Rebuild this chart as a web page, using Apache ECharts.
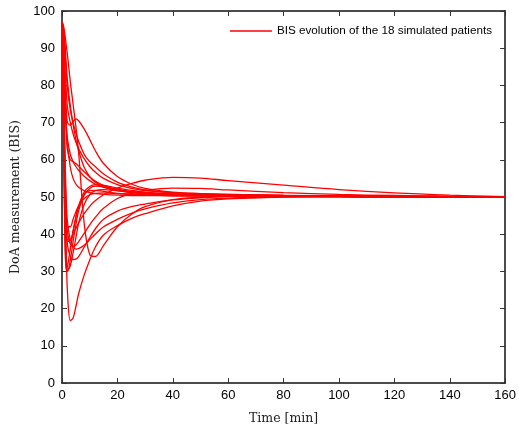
<!DOCTYPE html>
<html>
<head>
<meta charset="utf-8">
<script src="https://cdn.jsdelivr.net/npm/echarts@6/dist/echarts.min.js"></script>
<style>html,body{margin:0;padding:0;background:#fff}#c{width:519px;height:430px}</style>
</head>
<body>
<div id="c"></div>
<script>
const seriesName = 'BIS evolution of the 18 simulated patients';
const xTicks = [0, 20, 40, 60, 80, 100, 120, 140, 160];
const yTicks = [0, 10, 20, 30, 40, 50, 60, 70, 80, 90, 100];
const time = [0, 0.5, 1, 1.5, 2, 3, 4, 5, 6, 8, 10, 12, 15, 20, 25, 30, 40, 50, 60, 80, 100, 120, 140, 160];

const p1  = [97, 92, 82, 74, 70, 69.3, 70.3, 71, 70.5, 68.3, 65.5, 62.5, 59, 55.5, 53.5, 52.3, 51.3, 50.9, 50.7, 50.4, 50.3, 50.2, 50.1, 50];
const p2  = [97, 90, 78, 68, 62.5, 60, 59.5, 59, 58.3, 56.8, 55.4, 54.3, 53.1, 51.9, 51.3, 51, 50.7, 50.6, 50.5, 50.3, 50.2, 50.1, 50.1, 50];
const p3  = [97, 95, 90, 84, 79, 73.5, 70, 67.3, 65, 61.5, 59.5, 58.2, 56.2, 54, 52.7, 51.9, 51.2, 50.9, 50.7, 50.4, 50.3, 50.2, 50.1, 50];
const p4  = [97, 94, 86, 79, 74, 70, 67, 64.8, 63, 60.3, 58.2, 56.7, 55, 53.3, 52.3, 51.7, 51.1, 50.8, 50.6, 50.4, 50.3, 50.2, 50.1, 50];
const p5  = [97, 90, 80, 70, 65.5, 61.5, 59.5, 58.2, 57.2, 55.6, 54.4, 53.5, 52.6, 51.8, 51.3, 51, 50.7, 50.6, 50.5, 50.3, 50.2, 50.1, 50.1, 50];
const p6  = [97, 91, 80, 70, 64, 58, 55, 53.5, 52.6, 51.7, 51.2, 50.9, 50.7, 50.5, 50.4, 50.4, 50.3, 50.3, 50.2, 50.2, 50.1, 50.1, 50, 50];
const p7  = [97, 96, 92, 86, 81, 74.5, 69.5, 65.5, 62.5, 58, 55.5, 54, 52.8, 51.7, 51.2, 50.9, 50.6, 50.5, 50.4, 50.3, 50.2, 50.1, 50.1, 50];
const p8  = [97, 80, 55, 36, 24, 16.8, 17.5, 20.5, 24, 29, 33, 36.5, 39.8, 42.3, 44.2, 45.5, 47.6, 48.9, 49.5, 50, 50.1, 50.1, 50, 50];
const p9  = [97, 72, 44, 31, 30, 33, 38, 42.5, 46.3, 50.5, 52.3, 52.9, 52.8, 52.1, 51.5, 51.1, 50.7, 50.5, 50.4, 50.3, 50.2, 50.1, 50.1, 50];
const p10 = [97, 76, 49, 34, 30.3, 31.5, 35, 39, 43, 48, 50.6, 51.7, 52, 51.7, 51.3, 51, 50.6, 50.5, 50.4, 50.3, 50.2, 50.1, 50.1, 50];
const p11 = [97, 82, 58, 43, 38.5, 38.5, 41, 44.5, 47.5, 51.3, 52.8, 53.3, 53.1, 52.4, 51.8, 51.3, 50.8, 50.6, 50.5, 50.3, 50.2, 50.1, 50.1, 50];
const p12 = [97, 78, 52, 41, 38, 38.5, 40, 41.5, 43, 45.5, 47.5, 49, 50.6, 52.4, 53.6, 54.5, 55.3, 55.1, 54.4, 53.2, 52, 51.1, 50.5, 50.1];
const p13 = [97, 85, 61, 46, 40.5, 37.3, 36.7, 37.1, 38, 40.2, 42.5, 44.5, 47, 49.6, 51, 51.8, 52.4, 52.3, 51.9, 51.2, 50.7, 50.4, 50.2, 50.1];
const p14 = [97, 68, 40, 30.5, 31.5, 36, 40.5, 44.5, 47.5, 50.8, 51.7, 51.8, 51.5, 51, 50.8, 50.6, 50.4, 50.3, 50.3, 50.2, 50.1, 50.1, 50, 50];
const p15 = [97, 86, 64, 50, 43, 38.5, 36.7, 36, 36.1, 37, 38.5, 40, 42, 44, 45.6, 46.8, 48.4, 49.3, 49.7, 50, 50.1, 50, 50, 50];
const p16 = [97, 81, 56, 43, 37, 34, 33.2, 33.3, 34, 36.5, 39, 41.4, 44, 46.2, 47.4, 48.1, 49.2, 49.8, 50.1, 50.2, 50.1, 50.1, 50, 50];
const p17 = [97, 96, 94, 91, 88, 81, 75, 69, 62, 43, 34.5, 34, 37, 42, 45.3, 47.4, 49.3, 50, 50.3, 50.3, 50.2, 50.1, 50, 50];
const p18 = [97, 80, 58, 46, 42, 42, 44, 46, 47.6, 49.6, 50.6, 51, 51.1, 50.9, 50.7, 50.5, 50.4, 50.3, 50.3, 50.2, 50.1, 50.1, 50, 50];

const patients = [p1,p2,p3,p4,p5,p6,p7,p8,p9,p10,p11,p12,p13,p14,p15,p16,p17,p18];

const chart = echarts.init(document.getElementById('c'), null, {renderer: 'canvas'});
const labelFont = {color: '#000', fontFamily: 'Liberation Sans, Arial, sans-serif', fontSize: 13};
const nameFont = {color: '#222', fontFamily: 'DejaVu Serif, Liberation Serif, serif', fontSize: 12.5};
const axisLine = {show: true, onZero: false, lineStyle: {color: '#111', width: 1.5}};
const tickIn = {show: true, inside: true, length: 5, lineStyle: {color: '#333', width: 1}};

chart.setOption({
  animation: false,
  backgroundColor: '#fff',
  grid: {left: 62, right: 12, top: 11, bottom: 43, containLabel: false},
  legend: {
    data: [seriesName], right: 22, top: 20,
    icon: 'rect', itemWidth: 42, itemHeight: 1.5,
    textStyle: {color: '#000', fontFamily: 'Liberation Sans, Arial, sans-serif', fontSize: 11.7},
    backgroundColor: '#fff'
  },
  xAxis: [{
    type: 'value', min: xTicks[0], max: xTicks[xTicks.length-1], interval: 20,
    axisLine: axisLine, axisTick: tickIn, splitLine: {show: false},
    axisLabel: Object.assign({margin: 6, formatter: v => String(v)}, labelFont),
    name: 'Time [min]', nameLocation: 'middle', nameGap: 29, nameTextStyle: nameFont
  }, {
    type: 'value', position: 'top', min: xTicks[0], max: xTicks[xTicks.length-1], interval: 20,
    axisLine: axisLine, axisTick: tickIn, axisLabel: {show: false}, splitLine: {show: false}
  }],
  yAxis: [{
    type: 'value', min: yTicks[0], max: yTicks[yTicks.length-1], interval: 10,
    axisLine: axisLine, axisTick: tickIn, splitLine: {show: false},
    axisLabel: Object.assign({margin: 7}, labelFont),
    name: 'DoA measurement (BIS)', nameLocation: 'middle', nameGap: 37, nameTextStyle: nameFont
  }, {
    type: 'value', position: 'right', min: yTicks[0], max: yTicks[yTicks.length-1], interval: 10,
    axisLine: axisLine, axisTick: tickIn, axisLabel: {show: false}, splitLine: {show: false}
  }],
  series: patients.map(vals => ({
    name: seriesName,
    type: 'line',
    xAxisIndex: 0, yAxisIndex: 0,
    data: time.map((t, i) => [t, vals[i]]),
    showSymbol: false, symbol: 'none',
    smooth: 0.35,
    lineStyle: {color: '#ff0000', width: 1.3},
    itemStyle: {color: '#ff0000'},
    emphasis: {disabled: true}
  }))
});
</script>
</body>
</html>
